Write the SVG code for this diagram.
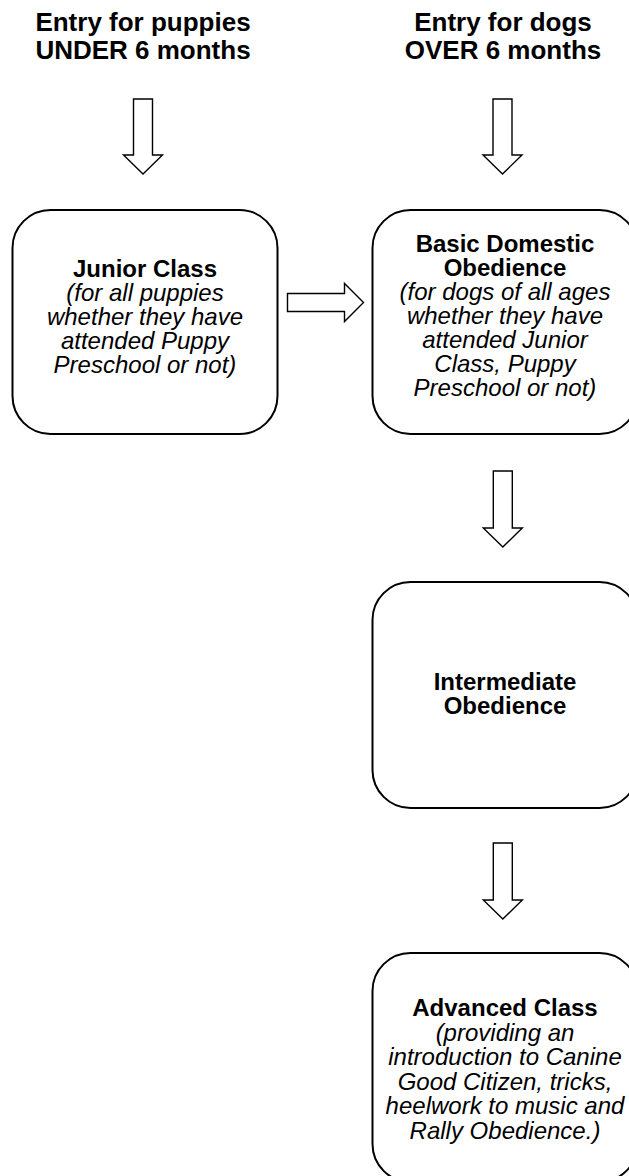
<svg xmlns="http://www.w3.org/2000/svg" width="629" height="1176" viewBox="0 0 629 1176">
<style>
.hd{font-family:"Liberation Sans",Arial,sans-serif;font-weight:bold;font-size:26px;fill:#000;text-anchor:middle}
.t{font-family:"Liberation Sans",Arial,sans-serif;font-weight:bold;font-size:24px;fill:#000;text-anchor:middle}
.d{font-family:"Liberation Sans",Arial,sans-serif;font-style:italic;font-size:24px;fill:#000;text-anchor:middle}
.box{fill:#fff;stroke:#000;stroke-width:2}
.arr{fill:#fff;stroke:#000;stroke-width:1.4;stroke-linejoin:miter}
</style>
<rect width="629" height="1176" fill="#fff"/>
<g id="header-puppies">
<text class="hd" x="143" y="31">Entry for puppies</text>
<text class="hd" x="143" y="59">UNDER 6 months</text>
</g>
<g id="header-dogs">
<text class="hd" x="503" y="31">Entry for dogs</text>
<text class="hd" x="503" y="59">OVER 6 months</text>
</g>
<g id="junior">
<rect class="box" x="12.5" y="210" width="265" height="224" rx="38" ry="38"/>
<text class="t" x="145" y="277">Junior Class</text>
<text class="d" x="145" y="301">(for all puppies</text>
<text class="d" x="145" y="325">whether they have</text>
<text class="d" x="145" y="349">attended Puppy</text>
<text class="d" x="145" y="373">Preschool or not)</text>
</g>
<g id="basic">
<rect class="box" x="372.5" y="210" width="265" height="224" rx="38" ry="38"/>
<text class="t" x="505" y="252">Basic Domestic</text>
<text class="t" x="505" y="276">Obedience</text>
<text class="d" x="505" y="300">(for dogs of all ages</text>
<text class="d" x="505" y="324">whether they have</text>
<text class="d" x="505" y="348">attended Junior</text>
<text class="d" x="505" y="372">Class, Puppy</text>
<text class="d" x="505" y="396">Preschool or not)</text>
</g>
<g id="intermediate">
<rect class="box" x="372.5" y="582" width="265" height="226" rx="38" ry="38"/>
<text class="t" x="505" y="690">Intermediate</text>
<text class="t" x="505" y="714">Obedience</text>
</g>
<g id="advanced">
<rect class="box" x="372.5" y="953" width="265" height="229" rx="38" ry="38"/>
<text class="t" x="505" y="1016">Advanced Class</text>
<text class="d" x="505" y="1040.5">(providing an</text>
<text class="d" x="505" y="1065">introduction to Canine</text>
<text class="d" x="505" y="1089.5">Good Citizen, tricks,</text>
<text class="d" x="505" y="1114">heelwork to music and</text>
<text class="d" x="505" y="1138.5">Rally Obedience.)</text>
</g>
<g id="connectors">
<path class="arr" d="M133.5 99 H152.5 V155 H162.5 L143 174 L123.5 155 H133.5 Z"/>
<path class="arr" d="M493 99 H512 V155 H522 L502.5 174 L483 155 H493 Z"/>
<path class="arr" d="M493.3 471 H512.3 V528 H522.3 L502.8 547 L483.3 528 H493.3 Z"/>
<path class="arr" d="M493.3 843 H512.3 V900 H522.3 L502.8 919 L483.3 900 H493.3 Z"/>
<path class="arr" d="M287.5 293.5 H344.5 V283.5 L363.5 302.5 L344.5 321.5 V311.5 H287.5 Z"/>
</g>
</svg>
